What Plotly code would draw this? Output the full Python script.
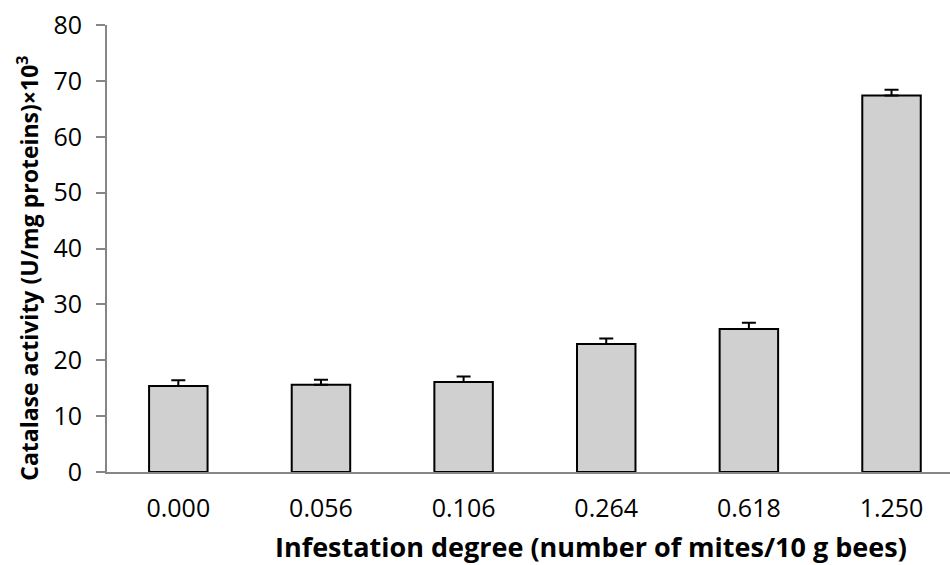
import plotly.graph_objects as go

# Catalase activity by infestation degree
categories = ["0.000", "0.056", "0.106", "0.264", "0.618", "1.250"]
activity = [15.4, 15.6, 16.1, 22.9, 25.6, 67.4]
error = [1.0, 0.9, 1.0, 1.0, 1.1, 1.0]
y_ticks = [0, 10, 20, 30, 40, 50, 60, 70, 80]

X_TITLE = "<b>Infestation degree (number of mites/10 g bees)</b>"
Y_TITLE = "<b>Catalase activity (U/mg proteins)×10<sup>3</sup></b>"

FONT = "Open Sans"
AXIS_GREY = "#868686"

fig = go.Figure(
    go.Bar(
        x=categories,
        y=activity,
        width=0.41,
        marker=dict(color="#d0d0d0", line=dict(color="black", width=2)),
        error_y=dict(
            type="data",
            symmetric=False,
            array=error,
            arrayminus=[0] * len(error),
            color="black",
            thickness=2,
            width=7,
        ),
    )
)

fig.update_layout(
    width=950,
    height=565,
    margin=dict(l=107, r=0, t=25, b=93),
    paper_bgcolor="white",
    plot_bgcolor="white",
    showlegend=False,
    font=dict(family=FONT, color="black", size=24),
)

fig.update_xaxes(
    type="category",
    range=[-0.5, 5.41],
    showline=True,
    linecolor=AXIS_GREY,
    linewidth=2,
    ticks="",
    showgrid=False,
    tickfont=dict(size=25),
    ticklabelstandoff=13,
)

fig.update_yaxes(
    range=[0, 80],
    tickvals=y_ticks,
    showline=True,
    linecolor=AXIS_GREY,
    linewidth=2,
    ticks="outside",
    ticklen=9,
    tickwidth=2,
    tickcolor=AXIS_GREY,
    showgrid=False,
    zeroline=False,
    tickfont=dict(size=25),
    ticklabelstandoff=9,
)

# Axis titles placed as paper-anchored annotations
fig.add_annotation(
    text=X_TITLE,
    xref="paper", yref="paper",
    x=0.574, y=-0.166,
    xanchor="center", yanchor="middle",
    showarrow=False,
    font=dict(size=27),
)
fig.add_annotation(
    text=Y_TITLE,
    xref="paper", yref="paper",
    x=-0.093, y=0.456,
    xanchor="center", yanchor="middle",
    textangle=-90,
    showarrow=False,
    font=dict(size=23),
)

fig.write_html("out.html")
